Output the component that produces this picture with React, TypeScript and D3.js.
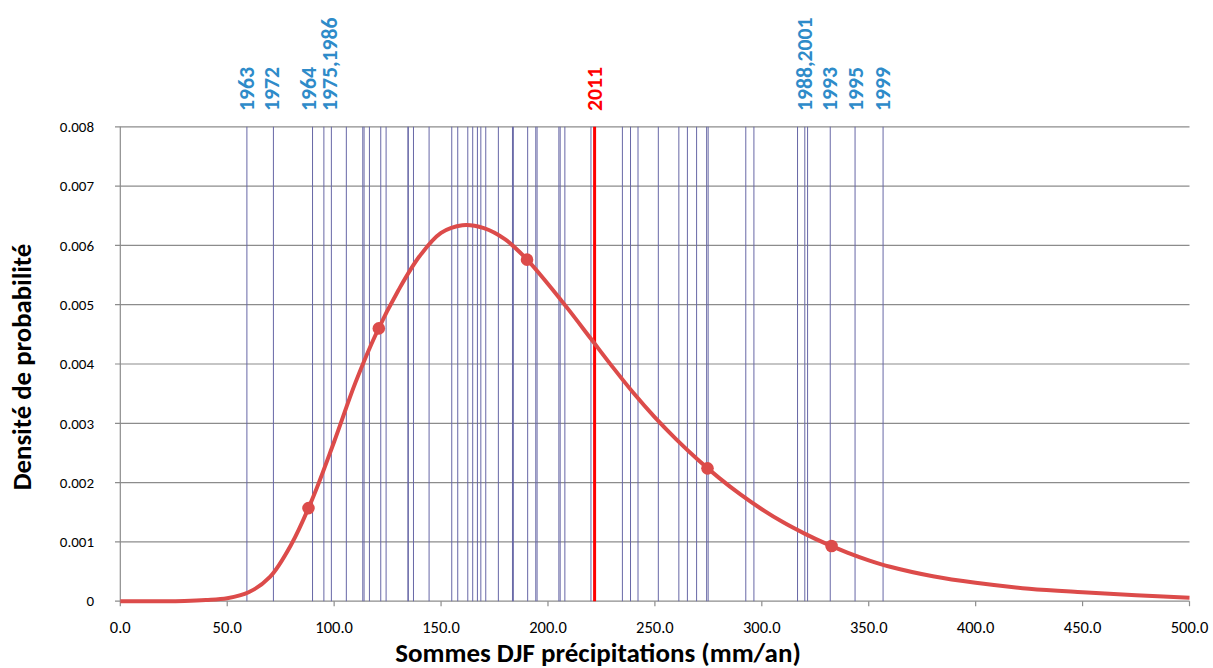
import React from "react";
import * as d3 from "d3";

// Density curve
const curveX = [0, 20, 30, 40, 50, 60, 70, 80, 90, 100, 110, 120, 130, 140, 150, 160, 170, 180, 190, 200, 210, 220, 230, 240, 250, 260, 270, 280, 290, 300, 310, 320, 330, 340, 350, 360, 380, 400, 425, 450, 475, 500];
const curveY = [0, 0, 0.000005, 0.00002, 0.00005, 0.00015, 0.00041, 0.00096, 0.00174, 0.00269, 0.00369, 0.00454, 0.00524, 0.00582, 0.00621, 0.00634, 0.00629, 0.0061, 0.00577, 0.00535, 0.0049, 0.00443, 0.00396, 0.00351, 0.0031, 0.00273, 0.00239, 0.00208, 0.0018, 0.00155, 0.00133, 0.00114, 0.00097, 0.00082, 0.00069, 0.00058, 0.00042, 0.00031, 0.00021, 0.00015, 0.0001, 0.00006];

// Marked points on the curve
const markerX = [88, 120.9, 190.2, 274.6, 332.6];
const markerY = [0.00157, 0.0046, 0.00576, 0.00224, 0.00093];

// Yearly DJF sums (vertical lines)
const yearValues = [59.2, 71.6, 89.9, 95.2, 98.7, 105.7, 113.4, 114.0, 116.5, 121.8, 124.3, 134.5, 134.7, 137.1, 144.4, 155.0, 157.8, 162.5, 164.8, 167.0, 168.6, 170.9, 176.8, 183.4, 183.8, 190.5, 194.3, 194.9, 205.1, 205.7, 207.9, 220.1, 234.8, 238.6, 242.1, 251.6, 261.2, 265.2, 269.5, 274.2, 274.9, 292.5, 296.3, 316.7, 320.1, 321.4, 332.0, 343.6, 356.7];
const highlightValue = 221.8;

// Year labels
const labelTexts = ["1963", "1972", "1964", "1975,1986", "1988,2001", "1993", "1995", "1999"];
const labelValues = [59.2, 70.5, 88.2, 97.8, 320.0, 331.6, 343.8, 356.5];
const highlightLabel = "2011";

// Axes
const xTicks = [0, 50, 100, 150, 200, 250, 300, 350, 400, 450, 500];
const yTicks = [0, 0.001, 0.002, 0.003, 0.004, 0.005, 0.006, 0.007, 0.008];
const xTitle = "Sommes DJF précipitations (mm/an)";
const yTitle = "Densité de probabilité";

const FONT = "Carlito, Lato, 'Open Sans', sans-serif";

export default function App() {
  const W = 1213, H = 668;
  const x = d3.scaleLinear().domain([0, 500]).range([120.3, 1189.5]);
  const y = d3.scaleLinear().domain([0, 0.008]).range([601.2, 126.8]);
  const pts = curveX.map((v, i) => [v, curveY[i]] as [number, number]);
  const line = d3.line<[number, number]>()
    .x(d => x(d[0]))
    .y(d => y(d[1]))
    .curve(d3.curveCatmullRom.alpha(0.5));
  const gridColor = "#8c8c8c";
  const vColor = "#6767a6";
  const blue = "#2e8bc9";
  const y0 = y(0), yTop = y(0.008);

  return (
    <svg width={W} height={H} style={{ position: "absolute", left: 0, top: 0, background: "#fff" }}>
      {/* horizontal gridlines */}
      {yTicks.map((t, i) => (
        <line key={"g" + i} x1={115} x2={x(500)} y1={y(t)} y2={y(t)} stroke={gridColor} strokeWidth={1.2} />
      ))}
      {/* y axis */}
      <line x1={x(0)} x2={x(0)} y1={yTop} y2={y0} stroke={gridColor} strokeWidth={1.2} />
      {/* x ticks */}
      {xTicks.map((t, i) => (
        <line key={"xt" + i} x1={x(t)} x2={x(t)} y1={y0} y2={y0 + 5} stroke={gridColor} strokeWidth={1.2} />
      ))}
      {/* vertical year lines */}
      {yearValues.map((v, i) => (
        <line key={"v" + i} x1={x(v)} x2={x(v)} y1={yTop} y2={y0} stroke={vColor} strokeWidth={1} />
      ))}
      <line x1={x(highlightValue)} x2={x(highlightValue)} y1={yTop} y2={y0} stroke="#ff0000" strokeWidth={3} />
      {/* curve */}
      <path d={line(pts) || ""} fill="none" stroke="#dc4b4a" strokeWidth={4} />
      {markerX.map((v, i) => (
        <circle key={"m" + i} cx={x(v)} cy={y(markerY[i])} r={6.3} fill="#dc4b4a" />
      ))}
      {/* y tick labels */}
      {yTicks.map((t, i) => (
        <text key={"yl" + i} x={94} y={y(t)} dy="0.35em" textAnchor="end" fontFamily={FONT} fontSize={15} fill="#000">
          {t === 0 ? "0" : d3.format(".3f")(t)}
        </text>
      ))}
      {/* x tick labels */}
      {xTicks.map((t, i) => (
        <text key={"xl" + i} x={x(t)} y={627} dy="0.35em" textAnchor="middle" fontFamily={FONT} fontSize={16.5} fill="#000">
          {d3.format(".1f")(t)}
        </text>
      ))}
      {/* year labels */}
      {labelTexts.map((s, i) => (
        <text key={"lab" + i} transform={`translate(${x(labelValues[i])},111) rotate(-90)`} dominantBaseline="central"
          fontFamily={FONT} fontWeight="bold" fontSize={21.7} fill={blue}>{s}</text>
      ))}
      <text transform={`translate(${x(highlightValue)},111) rotate(-90)`} dominantBaseline="central"
        fontFamily={FONT} fontWeight="bold" fontSize={21.7} fill="#ff0000">{highlightLabel}</text>
      {/* axis titles */}
      <text x={598} y={662} textAnchor="middle" fontFamily={FONT} fontWeight="bold" fontSize={27} fill="#000">{xTitle}</text>
      <text transform="translate(31,367) rotate(-90)" textAnchor="middle" fontFamily={FONT} fontWeight="bold" fontSize={26.8} fill="#000">{yTitle}</text>
    </svg>
  );
}
